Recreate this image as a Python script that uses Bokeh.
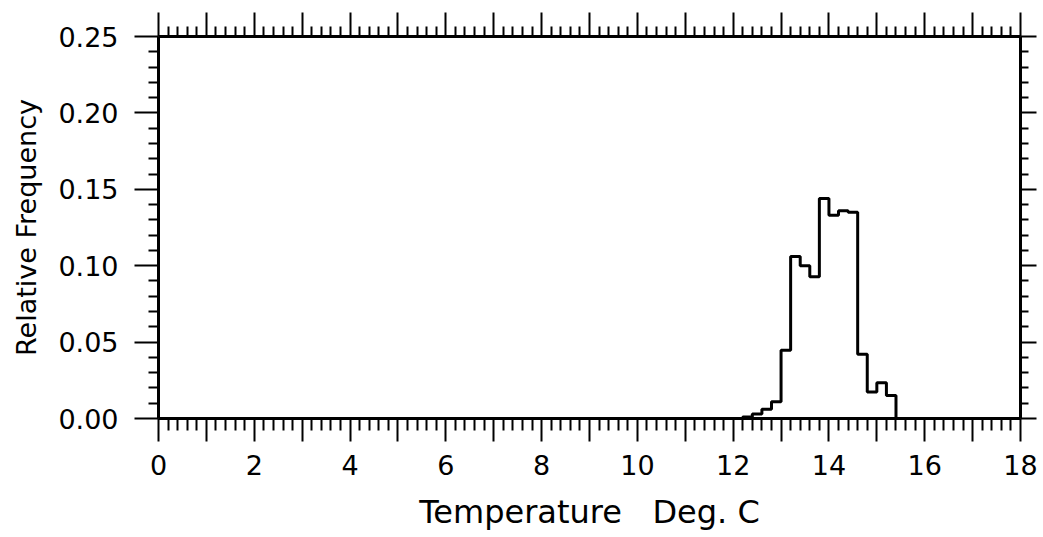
from bokeh.plotting import figure
from bokeh.models import (Range1d, LinearAxis, FixedTicker, PrintfTickFormatter,
                          CustomLabelingPolicy)
from bokeh.embed import file_html
from bokeh.resources import INLINE

# ---- data ----
bin_edges = [12.2, 12.4, 12.6, 12.8, 13.0, 13.2, 13.4, 13.6, 13.8,
             14.0, 14.2, 14.4, 14.6, 14.8, 15.0, 15.2, 15.4]
rel_freq = [0.001, 0.003, 0.006, 0.011, 0.0446, 0.106, 0.100, 0.0927,
            0.144, 0.133, 0.136, 0.135, 0.042, 0.0173, 0.0234, 0.0151]

x_major = list(range(0, 19))
y_major = [0.0, 0.05, 0.10, 0.15, 0.20, 0.25]

x_minor = [round(i * 0.2, 2) for i in range(0, 91) if i % 5 != 0]
y_minor = [round(i * 0.01, 2) for i in range(0, 26) if i % 5 != 0]

FONT = "DejaVu Sans"

p = figure(width=1041, height=536, output_backend="svg", toolbar_location=None,
           x_range=Range1d(0, 18), y_range=Range1d(0, 0.25),
           min_border_left=158, min_border_right=20, min_border_top=36,
           min_border_bottom=118, x_axis_location=None, y_axis_location=None)
p.outline_line_color = None
p.xgrid.visible = False
p.ygrid.visible = False
p.background_fill_color = "white"
p.border_fill_color = "white"

xt = FixedTicker(ticks=x_major, minor_ticks=x_minor)
yt = FixedTicker(ticks=y_major, minor_ticks=y_minor)

no_labels = CustomLabelingPolicy(code="""
const n = indices.size;
for (let i = 0; i < n; i++) indices.unset(i);
return indices;
""")
even_labels = CustomLabelingPolicy(code="""
const n = indices.size;
for (let i = 0; i < n; i++) { if (i % 2 == 1) indices.unset(i); }
return indices;
""")


def style(ax, major_out, minor_out):
    ax.axis_line_width = 3
    ax.axis_line_color = "black"
    ax.major_tick_line_width = 2
    ax.minor_tick_line_width = 2
    ax.major_tick_line_color = "black"
    ax.minor_tick_line_color = "black"
    ax.major_tick_in = 0
    ax.minor_tick_in = 0
    ax.major_tick_out = major_out
    ax.minor_tick_out = minor_out
    ax.major_label_text_font = FONT
    ax.major_label_text_color = "black"
    ax.axis_label_text_font = FONT
    ax.axis_label_text_font_style = "normal"
    ax.axis_label_text_color = "black"


bottom = LinearAxis(ticker=xt, axis_label="Temperature\u00a0\u00a0\u00a0Deg.\u00a0C")
style(bottom, 23, 12)
bottom.major_label_policy = even_labels
bottom.major_label_text_font_size = "27px"
bottom.major_label_standoff = 13
bottom.axis_label_text_font_size = "32px"
bottom.axis_label_standoff = 15
p.add_layout(bottom, "below")

left = LinearAxis(ticker=yt, axis_label="Relative Frequency",
                  formatter=PrintfTickFormatter(format="%.2f"))
style(left, 24, 10)
left.major_label_text_font_size = "27px"
left.major_label_standoff = 16
left.axis_label_text_font_size = "27px"
left.axis_label_standoff = 13
p.add_layout(left, "left")

top = LinearAxis(ticker=xt)
style(top, 24, 10)
top.major_label_policy = no_labels
top.major_label_text_font_size = "1px"
top.major_label_standoff = 0
p.add_layout(top, "above")

right = LinearAxis(ticker=yt)
style(right, 16, 8)
right.major_label_policy = no_labels
right.major_label_text_font_size = "1px"
right.major_label_standoff = 0
p.add_layout(right, "right")

xs = [bin_edges[0]] + bin_edges
ys = [0.0] + rel_freq + [0.0]
p.step(x=xs, y=ys, mode="after", line_color="black", line_width=3)

open("out.html", "w").write(file_html(p, INLINE))
